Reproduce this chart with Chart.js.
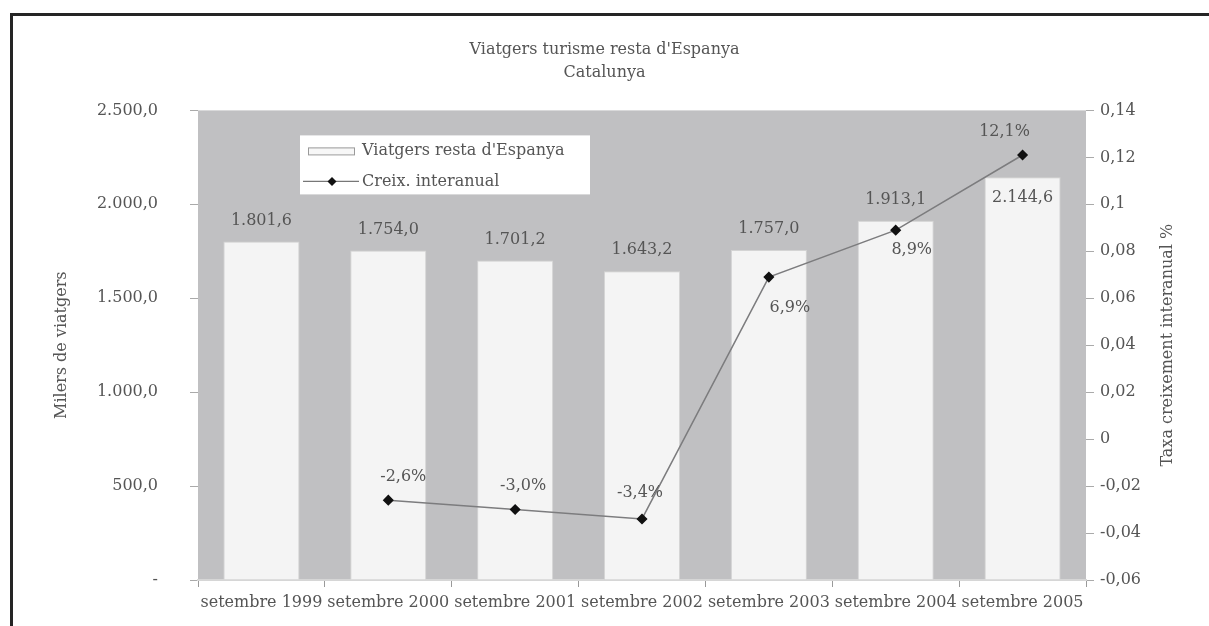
<!DOCTYPE html>
<html>
<head>
<meta charset="utf-8">
<script src="https://cdn.jsdelivr.net/npm/chart.js@4/dist/chart.umd.min.js"></script>
<style>
  html, body { margin: 0; padding: 0; background: #fff; overflow: hidden; }
  #wrap { position: absolute; left: 0; top: 0; width: 1209px; height: 626px; }
  #frame {
    position: absolute; left: 10px; top: 13px; width: 1300px; height: 700px;
    border-top: 3px solid #252525; border-left: 3px solid #252525;
    pointer-events: none;
  }
</style>
</head>
<body>
<div id="wrap"><canvas id="chart" width="1209" height="626"></canvas></div>
<div id="frame"></div>
<script>
const categories = [
    "setembre 1999", "setembre 2000", "setembre 2001", "setembre 2002",
    "setembre 2003", "setembre 2004", "setembre 2005"
];
const viatgers = [1801.6, 1754.0, 1701.2, 1643.2, 1757.0, 1913.1, 2144.6];
const creixement = [null, -0.026, -0.030, -0.034, 0.069, 0.089, 0.121];

const titleLines = ["Viatgers turisme resta d'Espanya", "Catalunya"];
const leftTitle = "Milers de viatgers";
const rightTitle = "Taxa creixement interanual %";
const barLegend = "Viatgers resta d'Espanya";
const lineLegend = "Creix. interanual";

// label placement (pixels relative to the mark)
const barLabelOffset = [-21, -21, -21, -21, -21, -21, 21];
const lineLabelOffset = [null, [15, -23], [8, -24], [-2, -26], [21, 31], [16, 20], [-18, -23]];

const fontFamily = "'DejaVu Serif', 'Liberation Serif', serif";
const textColor = "#555";
const plotGray = "#c0c0c2";

function fmtThousands(v) {
    const parts = v.toFixed(1).split(".");
    return parts[0].replace(/\B(?=(\d{3})+(?!\d))/g, ".") + "," + parts[1];
}
function fmtPct(v) {
    return (v * 100).toFixed(1).replace(".", ",") + "%";
}

const decoPlugin = {
    id: "deco",
    beforeDraw(chart) {
        const { ctx, chartArea: a } = chart;
        ctx.save();
        ctx.fillStyle = plotGray;
        ctx.fillRect(a.left, a.top, a.right - a.left, a.bottom - a.top);
        ctx.restore();
    },
    afterDatasetsDraw(chart) {
        const ctx = chart.ctx;
        ctx.save();
        ctx.font = "16px " + fontFamily;
        ctx.fillStyle = textColor;
        ctx.textAlign = "center";
        ctx.textBaseline = "middle";
        const barMeta = chart.getDatasetMeta(1);
        barMeta.data.forEach((el, i) => {
            ctx.fillText(fmtThousands(viatgers[i]), el.x, el.y + barLabelOffset[i]);
        });
        const lineMeta = chart.getDatasetMeta(0);
        lineMeta.data.forEach((el, i) => {
            if (creixement[i] === null) return;
            const off = lineLabelOffset[i];
            ctx.fillText(fmtPct(creixement[i]), el.x + off[0], el.y + off[1]);
        });
        ctx.restore();
    },
    afterDraw(chart) {
        const { ctx, chartArea: a } = chart;
        ctx.save();
        // legend box
        const lx = a.left + 102, ly = a.top + 25, lw = 290, lh = 59;
        ctx.fillStyle = "#fff";
        ctx.fillRect(lx, ly, lw, lh);
        ctx.fillStyle = "#f7f7f7";
        ctx.strokeStyle = "#9a9a9a";
        ctx.lineWidth = 1;
        ctx.fillRect(lx + 8, ly + 12, 46, 7);
        ctx.strokeRect(lx + 8.5, ly + 12.5, 46, 7);
        ctx.strokeStyle = "#777";
        ctx.lineWidth = 1.2;
        ctx.beginPath();
        ctx.moveTo(lx + 3, ly + 46);
        ctx.lineTo(lx + 59, ly + 46);
        ctx.stroke();
        ctx.fillStyle = "#111";
        ctx.beginPath();
        ctx.moveTo(lx + 32, ly + 41.5);
        ctx.lineTo(lx + 36.5, ly + 46);
        ctx.lineTo(lx + 32, ly + 50.5);
        ctx.lineTo(lx + 27.5, ly + 46);
        ctx.closePath();
        ctx.fill();
        ctx.font = "16px " + fontFamily;
        ctx.fillStyle = textColor;
        ctx.textAlign = "left";
        ctx.textBaseline = "middle";
        ctx.fillText(barLegend, lx + 62, ly + 15);
        ctx.fillText(lineLegend, lx + 62, ly + 46);
        // axis titles
        const midY = (a.top + a.bottom) / 2;
        ctx.textAlign = "center";
        ctx.translate(62, midY);
        ctx.rotate(-Math.PI / 2);
        ctx.fillText(leftTitle, 0, 0);
        ctx.setTransform(1, 0, 0, 1, 0, 0);
        ctx.translate(1168, midY);
        ctx.rotate(-Math.PI / 2);
        ctx.fillText(rightTitle, 0, 0);
        ctx.restore();
    }
};

const tickFont = { family: fontFamily, size: 16 };

const chart = new Chart(document.getElementById("chart"), {
    data: {
        labels: categories,
        datasets: [
            {
                type: "line",
                label: lineLegend,
                data: creixement,
                yAxisID: "y1",
                borderColor: "#7c7c7e",
                borderWidth: 1.5,
                pointStyle: "rectRot",
                pointRadius: 4.5,
                pointBackgroundColor: "#111",
                pointBorderColor: "#111",
                spanGaps: false,
                order: 0,
            },
            {
                type: "bar",
                label: barLegend,
                data: viatgers,
                yAxisID: "y",
                backgroundColor: "#f4f4f4",
                borderColor: "#d4d4d4",
                borderWidth: 1,
                categoryPercentage: 1,
                barPercentage: 0.6,
                order: 1,
            },
        ],
    },
    options: {
        responsive: false,
        animation: false,
        events: [],
        layout: { padding: { top: 38, left: 0, right: 0, bottom: 0 } },
        plugins: {
            legend: { display: false },
            tooltip: { enabled: false },
            title: {
                display: true,
                text: titleLines,
                color: textColor,
                font: { family: fontFamily, size: 16, weight: "normal", lineHeight: 1.45 },
                padding: { top: 0, bottom: 26 },
            },
        },
        scales: {
            x: {
                offset: true,
                grid: {
                    offset: true,
                    drawOnChartArea: false,
                    drawTicks: true,
                    tickLength: 7,
                    color: "#9a9a9a",
                },
                border: { display: true, color: "#d6d6d6", width: 2 },
                ticks: { color: textColor, font: tickFont, padding: 6, maxRotation: 0, autoSkip: false },
                afterFit(scale) { scale.height = 46; },
            },
            y: {
                position: "left",
                min: 0,
                max: 2500,
                grid: { drawOnChartArea: false, tickLength: 8, color: "#aaa" },
                border: { display: false },
                ticks: {
                    stepSize: 500,
                    color: textColor,
                    font: tickFont,
                    padding: 32,
                    callback: (v) => (v === 0 ? "-" : fmtThousands(v)),
                },
                afterFit(scale) { scale.width = 198; },
            },
            y1: {
                position: "right",
                min: -0.06,
                max: 0.14,
                grid: { drawOnChartArea: false, tickLength: 8, color: "#aaa" },
                border: { display: false },
                ticks: {
                    stepSize: 0.02,
                    color: textColor,
                    font: tickFont,
                    padding: 6,
                    callback: (v) => String(parseFloat(v.toFixed(2))).replace(".", ","),
                },
                afterFit(scale) { scale.width = 123; },
            },
        },
    },
    plugins: [decoPlugin],
});
</script>
</body>
</html>
